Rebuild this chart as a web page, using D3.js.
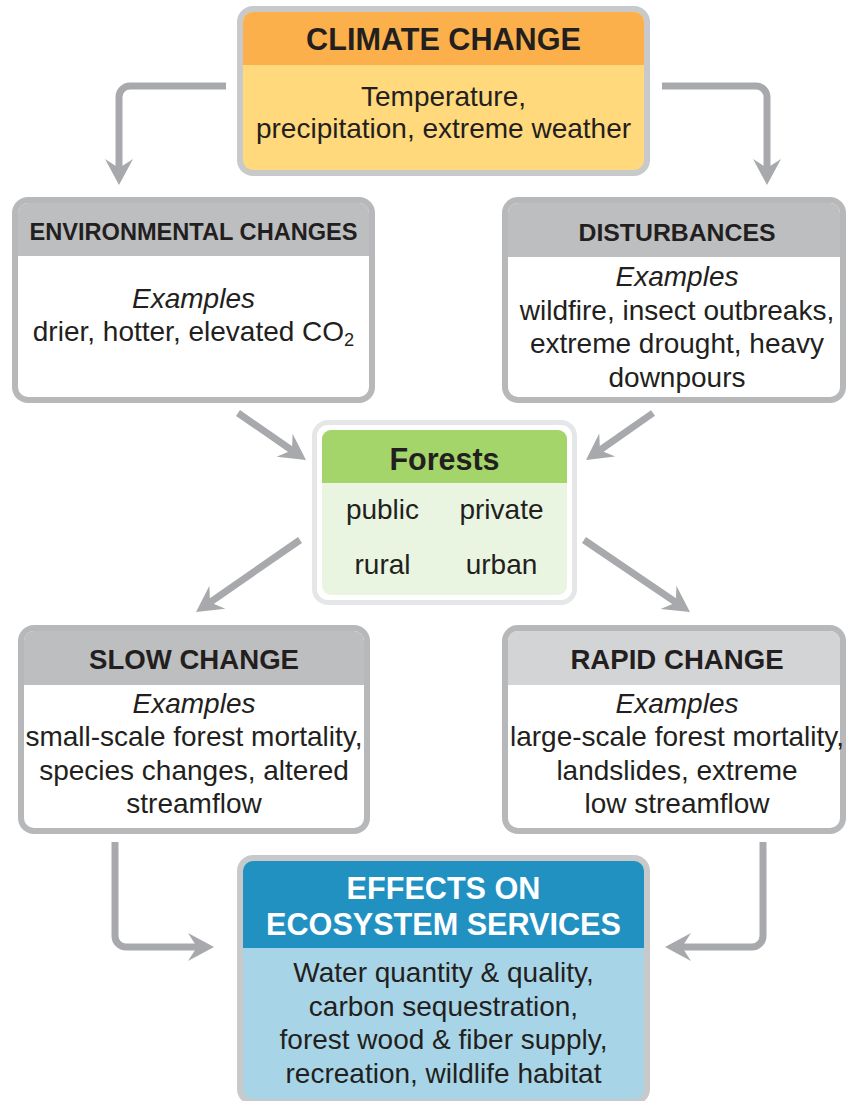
<!DOCTYPE html>
<html>
<head>
<meta charset="utf-8">
<script src="https://cdn.jsdelivr.net/npm/d3@7"></script>
<style>
  html, body { margin: 0; padding: 0; background: #fff; }
  svg { display: block; font-family: "Liberation Sans", Arial, sans-serif; }
</style>
</head>
<body>
<div id="layout"></div>
<script>
// ---- content ----
var boxIds = ["climate", "environmental", "disturbances", "forests", "slow", "rapid", "effects"];

var boxTitles = [
  ["CLIMATE CHANGE"],
  ["ENVIRONMENTAL CHANGES"],
  ["DISTURBANCES"],
  ["Forests"],
  ["SLOW CHANGE"],
  ["RAPID CHANGE"],
  ["EFFECTS ON", "ECOSYSTEM SERVICES"]
];

var boxHasExamples = [false, true, true, false, true, true, false];

var boxBodies = [
  ["Temperature,", "precipitation, extreme weather"],
  ["drier, hotter, elevated CO|2"],
  ["wildfire, insect outbreaks,", "extreme drought, heavy", "downpours"],
  [],
  ["small-scale forest mortality,", "species changes, altered", "streamflow"],
  ["large-scale forest mortality,", "landslides, extreme", "low streamflow"],
  ["Water quantity & quality,", "carbon sequestration,", "forest wood & fiber supply,", "recreation, wildlife habitat"]
];

var forestTypes = ["public", "private", "rural", "urban"];

var links = [
  ["climate", "environmental"],
  ["climate", "disturbances"],
  ["environmental", "forests"],
  ["disturbances", "forests"],
  ["forests", "slow"],
  ["forests", "rapid"],
  ["slow", "effects"],
  ["rapid", "effects"]
];

// ---- layout & styles ----
var outerWidth = 849,
    outerHeight = 1101,
    textColor = "#231f20",
    arrowColor = "#a7a9ac",
    bodyFont = 28;

var layout = {
  climate:       { x: 237, y: 6,   w: 413, h: 170, ring: 6, r: 16, head: 53, ringFill: "#c8c9cb", headFill: "#fbb04b", bodyFill: "#ffd97c",
                   titleSize: 30.6, titleY: [39], bodyY: 96, step: 32, textDx: 0, titleColor: textColor },
  environmental: { x: 12,  y: 197, w: 363, h: 206, ring: 6, r: 16, head: 53, ringFill: "#b7b8ba", headFill: "#bdbec0", bodyFill: "#ffffff",
                   titleSize: 23.6, titleY: [232], bodyY: 298, step: 33, textDx: 0, titleColor: textColor },
  disturbances:  { x: 502, y: 197, w: 344, h: 206, ring: 6, r: 16, head: 54, ringFill: "#b7b8ba", headFill: "#bdbec0", bodyFill: "#ffffff",
                   titleSize: 24.8, titleY: [232], bodyY: 276, step: 33.5, textDx: 3, titleColor: textColor },
  slow:          { x: 18,  y: 625, w: 352, h: 209, ring: 6, r: 16, head: 54, ringFill: "#b7b8ba", headFill: "#bdbec0", bodyFill: "#ffffff",
                   titleSize: 27.6, titleY: [659], bodyY: 703, step: 33.4, textDx: 0, titleColor: textColor },
  rapid:         { x: 502, y: 625, w: 344, h: 209, ring: 6, r: 16, head: 54, ringFill: "#b7b8ba", headFill: "#d3d4d5", bodyFill: "#ffffff",
                   titleSize: 27.6, titleY: [659], bodyY: 703, step: 33.4, textDx: 3, titleColor: textColor },
  effects:       { x: 237, y: 855, w: 413, h: 250, ring: 6, r: 16, head: 87, ringFill: "#c8c9cb", headFill: "#2191c2", bodyFill: "#a7d5e7",
                   titleSize: 30.6, titleY: [888, 924], bodyY: 972, step: 33.7, textDx: 0, titleColor: "#ffffff" },
  forests:       { x: 312, y: 420, w: 265, h: 185, ring: 5, r: 16, gap: 5, head: 53, ringFill: "#e5e6e7", headFill: "#a3d56b", bodyFill: "#eaf5e1",
                   titleSize: 30.5, titleY: [459], cellY: [509, 564], cellDx: [-62, 57], textDx: 0, titleColor: textColor }
};

// arrow routes (start ... tip) for each link, in the same order as links
var arrowRoutes = [
  [[226, 86], [119, 86], [119, 185]],
  [[662, 86], [767, 86], [767, 185]],
  [[238, 413], [306, 460]],
  [[653, 413], [586, 460]],
  [[300, 540], [196, 612]],
  [[584, 540], [690, 612]],
  [[115, 842], [115, 947], [214, 947]],
  [[763, 842], [763, 947], [665, 947]]
];

var svg = d3.select("#layout")
            .append("svg")
            .attr("width", outerWidth)
            .attr("height", outerHeight);

// path for a rect with only top corners rounded
topRounded = (x, y, w, h, r) => {
  var p = d3.path();
  p.moveTo(x, y + h);
  p.lineTo(x, y + r);
  p.arcTo(x, y, x + r, y, r);
  p.lineTo(x + w - r, y);
  p.arcTo(x + w, y, x + w, y + r, r);
  p.lineTo(x + w, y + h);
  p.closePath();
  return p.toString();
};

// draw a line of text, "|" marks a subscript tail
addLine = (g, str, cx, cy, size, opts) => {
  opts = opts || {};
  var parts = str.split("|");
  var t = g.append("text")
           .attr("x", cx)
           .attr("y", cy + size * 0.36)
           .attr("text-anchor", "middle")
           .attr("font-size", size)
           .attr("fill", opts.color || textColor)
           .attr("font-weight", opts.bold ? "bold" : "normal")
           .attr("font-style", opts.italic ? "italic" : "normal");
  t.append("tspan").text(parts[0]);
  if (parts.length > 1) {
    t.append("tspan")
     .attr("dy", size * 0.18)
     .attr("font-size", size * 0.65)
     .text(parts[1]);
  }
  return t;
};

// ---- arrows ----
var arrows = svg.append("g").attr("id", "arrows");

arrowRoutes.forEach((pts, i) => {
  var n = pts.length,
      tip = pts[n - 1],
      prev = pts[n - 2],
      len = Math.hypot(tip[0] - prev[0], tip[1] - prev[1]),
      ux = (tip[0] - prev[0]) / len,
      uy = (tip[1] - prev[1]) / len,
      headLen = 26, headHalf = 14, notch = 17,
      end = [tip[0] - ux * notch, tip[1] - uy * notch];

  var p = d3.path();
  p.moveTo(pts[0][0], pts[0][1]);
  for (var k = 1; k < n - 1; k++) {
    p.arcTo(pts[k][0], pts[k][1], pts[k + 1][0], pts[k + 1][1], 11);
  }
  p.lineTo(end[0], end[1]);

  arrows.append("path")
        .attr("class", "link " + links[i].join("-"))
        .attr("d", p.toString())
        .attr("fill", "none")
        .attr("stroke", arrowColor)
        .attr("stroke-width", 7);

  var bx = tip[0] - ux * headLen, by = tip[1] - uy * headLen;
  var head = d3.path();
  head.moveTo(tip[0], tip[1]);
  head.lineTo(bx - uy * headHalf, by + ux * headHalf);
  head.lineTo(end[0], end[1]);
  head.lineTo(bx + uy * headHalf, by - ux * headHalf);
  head.closePath();
  arrows.append("path")
        .attr("d", head.toString())
        .attr("fill", arrowColor);
});

// ---- boxes ----
boxIds.forEach((id, i) => {
  var L = layout[id];
  var g = svg.append("g").attr("id", id);
  var cx = L.x + L.w / 2 + L.textDx;

  g.append("rect")
   .attr("x", L.x).attr("y", L.y)
   .attr("width", L.w).attr("height", L.h)
   .attr("rx", L.r)
   .attr("fill", L.ringFill);

  var inset = L.ring + (L.gap || 0);
  if (L.gap) {
    g.append("rect")
     .attr("x", L.x + L.ring).attr("y", L.y + L.ring)
     .attr("width", L.w - 2 * L.ring).attr("height", L.h - 2 * L.ring)
     .attr("rx", L.r - L.ring)
     .attr("fill", "#ffffff");
  }
  var ix = L.x + inset, iy = L.y + inset, iw = L.w - 2 * inset, ih = L.h - 2 * inset;
  var ir = L.gap ? 9 : L.r - L.ring;

  g.append("rect")
   .attr("x", ix).attr("y", iy)
   .attr("width", iw).attr("height", ih)
   .attr("rx", ir)
   .attr("fill", L.bodyFill);

  g.append("path")
   .attr("d", topRounded(ix, iy, iw, L.head, ir))
   .attr("fill", L.headFill);

  boxTitles[i].forEach((t, j) => {
    addLine(g, t, cx, L.titleY[j], L.titleSize, { bold: true, color: L.titleColor });
  });

  var y = L.bodyY;
  if (boxHasExamples[i]) {
    addLine(g, "Examples", cx, y, bodyFont, { italic: true });
    y += L.step;
  }
  boxBodies[i].forEach((line) => {
    addLine(g, line, cx, y, bodyFont);
    y += L.step;
  });

  if (id === "forests") {
    forestTypes.forEach((t, k) => {
      var col = k % 2, row = Math.floor(k / 2);
      addLine(g, t, cx + L.cellDx[col], L.cellY[row], bodyFont);
    });
  }
});
</script>
</body>
</html>
